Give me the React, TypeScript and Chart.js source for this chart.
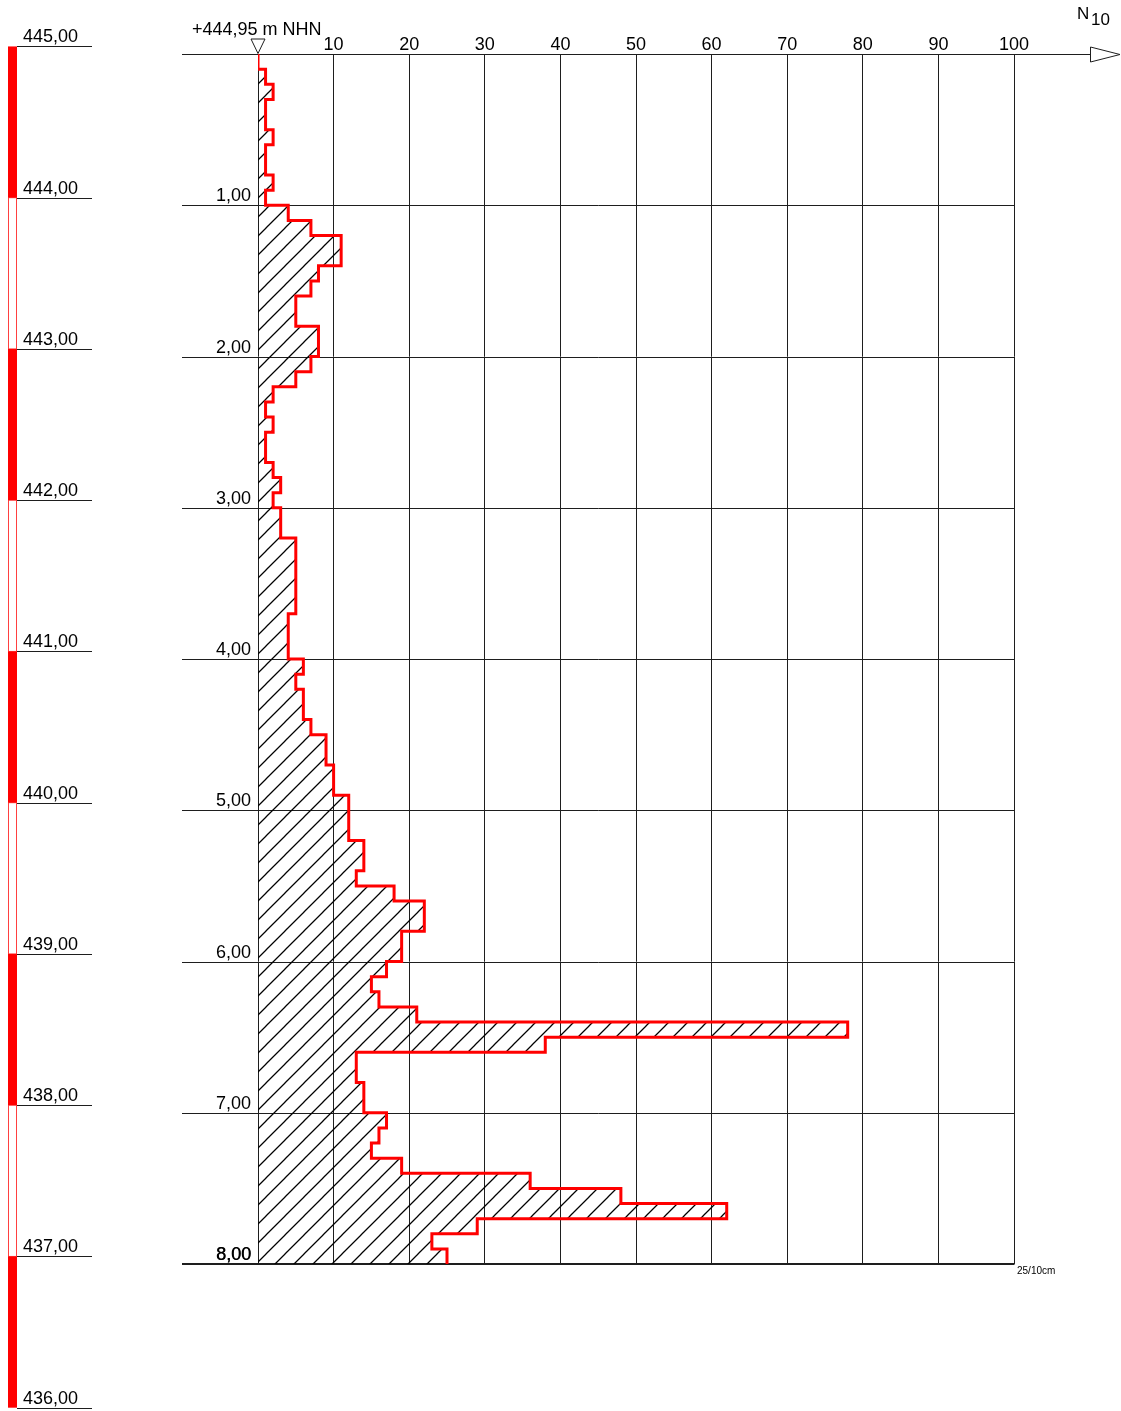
import React, { useEffect, useRef } from "react";
import { Chart, registerables } from "chart.js";

Chart.register(...registerables);

// Depth (m below ground) at the top of each 10 cm interval
const depthTop = [
  0.0, 0.1, 0.2, 0.3, 0.4, 0.5, 0.6, 0.7, 0.8, 0.9,
  1.0, 1.1, 1.2, 1.3, 1.4, 1.5, 1.6, 1.7, 1.8, 1.9,
  2.0, 2.1, 2.2, 2.3, 2.4, 2.5, 2.6, 2.7, 2.8, 2.9,
  3.0, 3.1, 3.2, 3.3, 3.4, 3.5, 3.6, 3.7, 3.8, 3.9,
  4.0, 4.1, 4.2, 4.3, 4.4, 4.5, 4.6, 4.7, 4.8, 4.9,
  5.0, 5.1, 5.2, 5.3, 5.4, 5.5, 5.6, 5.7, 5.8, 5.9,
  6.0, 6.1, 6.2, 6.3, 6.4, 6.5, 6.6, 6.7, 6.8, 6.9,
  7.0, 7.1, 7.2, 7.3, 7.4, 7.5, 7.6, 7.7, 7.8, 7.9,
];
const depthEnd = 8.0;

// N10 blow counts per 10 cm
const n10Values = [
  0, 1, 2, 1, 1, 2, 1, 1, 2, 1,
  4, 7, 11, 11, 8, 7, 5, 5, 8, 8,
  7, 5, 2, 1, 2, 1, 1, 2, 3, 2,
  3, 3, 5, 5, 5, 5, 5, 4, 4, 4,
  6, 5, 6, 6, 7, 9, 9, 10, 10, 12,
  12, 12, 14, 14, 13, 18, 22, 22, 19, 19,
  17, 15, 16, 21, 78, 38, 13, 13, 14, 14,
  17, 16, 15, 19, 36, 48, 62, 29, 23, 25,
];

const depthTicks = [1, 2, 3, 4, 5, 6, 7, 8];
const depthTickLabels = ["1,00", "2,00", "3,00", "4,00", "5,00", "6,00", "7,00", "8,00"];
const n10Ticks = [10, 20, 30, 40, 50, 60, 70, 80, 90, 100];
const elevationTicks = [445, 444, 443, 442, 441, 440, 439, 438, 437, 436];
const elevationLabels = ["445,00", "444,00", "443,00", "442,00", "441,00", "440,00", "439,00", "438,00", "437,00", "436,00"];
const groundElevation = 444.95;
const groundLabel = "+444,95 m NHN";
const axisTitle = "N";
const axisTitleSub = "10";
const unitNote = "25/10cm";

const FONT = '"Liberation Sans", Arial, Helvetica, sans-serif';
const RED = "#ff0000";
const GRID = "#1e1e1e";

function makeHatch(): CanvasPattern | string {
  const s = 19;
  const c = document.createElement("canvas");
  c.width = s;
  c.height = s;
  const g = c.getContext("2d");
  if (!g) return "rgba(0,0,0,0.2)";
  g.strokeStyle = "#000";
  g.lineWidth = 1.25;
  g.beginPath();
  g.moveTo(-2, s + 2);
  g.lineTo(s + 2, -2);
  g.moveTo(-2, 2);
  g.lineTo(2, -2);
  g.moveTo(s - 2, s + 2);
  g.lineTo(s + 2, s - 2);
  g.stroke();
  return g.createPattern(c, "repeat") || "rgba(0,0,0,0.2)";
}

const px = (v: number) => Math.round(v) + 0.5;

const decorPlugin = {
  id: "soundingDecor",
  beforeDatasetsDraw(chart: any) {
    const ctx: CanvasRenderingContext2D = chart.ctx;
    const xs = chart.scales.x;
    const ys = chart.scales.y;
    const lineLeft = 182;
    ctx.save();
    ctx.strokeStyle = GRID;
    ctx.lineWidth = 1;
    // ground line (depth 0) up to arrow
    const y0 = px(ys.getPixelForValue(0));
    ctx.beginPath();
    ctx.moveTo(lineLeft, y0);
    ctx.lineTo(1090, y0);
    ctx.stroke();
    // meter lines
    depthTicks.forEach((d) => {
      const isEnd = d === depthEnd;
      const y = isEnd ? Math.round(ys.getPixelForValue(d)) : px(ys.getPixelForValue(d));
      ctx.beginPath();
      ctx.lineWidth = isEnd ? 2 : 1;
      ctx.moveTo(lineLeft, y);
      ctx.lineTo(xs.getPixelForValue(100) + 0.5, y);
      ctx.stroke();
    });
    ctx.restore();
  },
  afterDraw(chart: any) {
    const ctx: CanvasRenderingContext2D = chart.ctx;
    const xs = chart.scales.x;
    const ys = chart.scales.y;
    const top = chart.chartArea.top;
    ctx.save();
    ctx.fillStyle = "#000";
    ctx.strokeStyle = GRID;
    ctx.lineWidth = 1;

    // arrow at the end of the N10 axis
    const y0 = px(ys.getPixelForValue(0));
    ctx.beginPath();
    ctx.moveTo(1090.5, y0 - 7.5);
    ctx.lineTo(1120, y0);
    ctx.lineTo(1090.5, y0 + 7.5);
    ctx.closePath();
    ctx.fillStyle = "#fff";
    ctx.fill();
    ctx.stroke();

    // N10 tick labels
    ctx.fillStyle = "#000";
    ctx.font = `18px ${FONT}`;
    ctx.textAlign = "center";
    ctx.textBaseline = "alphabetic";
    n10Ticks.forEach((v) => {
      ctx.fillText(String(v), xs.getPixelForValue(v), top - 4);
    });

    // axis title N10
    ctx.textAlign = "left";
    ctx.font = `17px ${FONT}`;
    ctx.fillText(axisTitle, 1077, 19);
    ctx.fillText(axisTitleSub, 1091, 25);

    // ground marker triangle and label
    const gx = xs.getPixelForValue(0);
    ctx.beginPath();
    ctx.moveTo(gx, top - 0.5);
    ctx.lineTo(gx - 7, top - 15);
    ctx.lineTo(gx + 7, top - 15);
    ctx.closePath();
    ctx.fillStyle = "#fff";
    ctx.fill();
    ctx.stroke();
    ctx.fillStyle = "#000";
    ctx.font = `18px ${FONT}`;
    ctx.textAlign = "left";
    ctx.fillText(groundLabel, 192, 35);

    // depth labels
    ctx.textAlign = "right";
    depthTicks.forEach((d, i) => {
      const y = ys.getPixelForValue(d);
      ctx.fillText(depthTickLabels[i], 251, y - 4);
      if (d === depthEnd) ctx.fillText(depthTickLabels[i], 251.5, y - 4);
    });

    // elevation scale: alternating red bar
    const barL = 8;
    const barW = 9;
    for (let i = 0; i < elevationTicks.length - 1; i++) {
      const ya = ys.getPixelForValue(groundElevation - elevationTicks[i]);
      const yb = ys.getPixelForValue(groundElevation - elevationTicks[i + 1]);
      if (i % 2 === 0) {
        ctx.fillStyle = RED;
        ctx.fillRect(barL, ya, barW, yb - ya);
      } else {
        ctx.strokeStyle = "rgba(255,0,0,0.75)";
        ctx.lineWidth = 1;
        ctx.strokeRect(barL + 0.5, ya, barW - 1, yb - ya);
      }
    }
    // elevation lines and labels
    ctx.strokeStyle = GRID;
    ctx.lineWidth = 1;
    ctx.fillStyle = "#000";
    ctx.textAlign = "left";
    elevationTicks.forEach((e, i) => {
      const y = ys.getPixelForValue(groundElevation - e);
      ctx.beginPath();
      ctx.moveTo(17, px(y));
      ctx.lineTo(92, px(y));
      ctx.stroke();
      ctx.fillText(elevationLabels[i], 23, y - 4);
    });

    // unit note
    ctx.font = `10px ${FONT}`;
    ctx.fillText(unitNote, 1017, ys.getPixelForValue(depthEnd) + 10);
    ctx.restore();
  },
};

export default function App() {
  const canvasRef = useRef<HTMLCanvasElement | null>(null);

  useEffect(() => {
    const canvas = canvasRef.current;
    if (!canvas) return;
    const points = depthTop.map((d, i) => ({ x: n10Values[i], y: d }));
    points.push({ x: n10Values[n10Values.length - 1], y: depthEnd });

    const chart = new Chart(canvas, {
      type: "line",
      data: {
        datasets: [
          {
            data: points as any,
            stepped: "after",
            borderColor: RED,
            borderWidth: 3,
            backgroundColor: makeHatch() as any,
            fill: "origin",
            pointRadius: 0,
            borderJoinStyle: "miter",
            borderCapStyle: "butt",
          } as any,
        ],
      },
      options: {
        indexAxis: "y",
        animation: false,
        responsive: false,
        devicePixelRatio: 1,
        events: [],
        layout: { padding: { left: 258, right: 107, top: 54, bottom: 147 } },
        plugins: {
          legend: { display: false },
          tooltip: { enabled: false },
          title: { display: false },
        },
        scales: {
          x: {
            type: "linear",
            position: "top",
            min: 0,
            max: 100,
            ticks: { display: false, stepSize: 10 },
            grid: { display: true, color: GRID, lineWidth: 1, drawTicks: false },
            border: { display: false },
          },
          y: {
            type: "linear",
            min: 0,
            max: depthEnd,
            reverse: true,
            display: false,
          },
        },
      } as any,
      plugins: [decorPlugin as any],
    });
    return () => chart.destroy();
  }, []);

  return (
    <div style={{ position: "absolute", left: 0, top: 0, width: 1121, height: 1411, background: "#fff" }}>
      <canvas ref={canvasRef} width={1121} height={1411} style={{ display: "block" }} />
    </div>
  );
}
